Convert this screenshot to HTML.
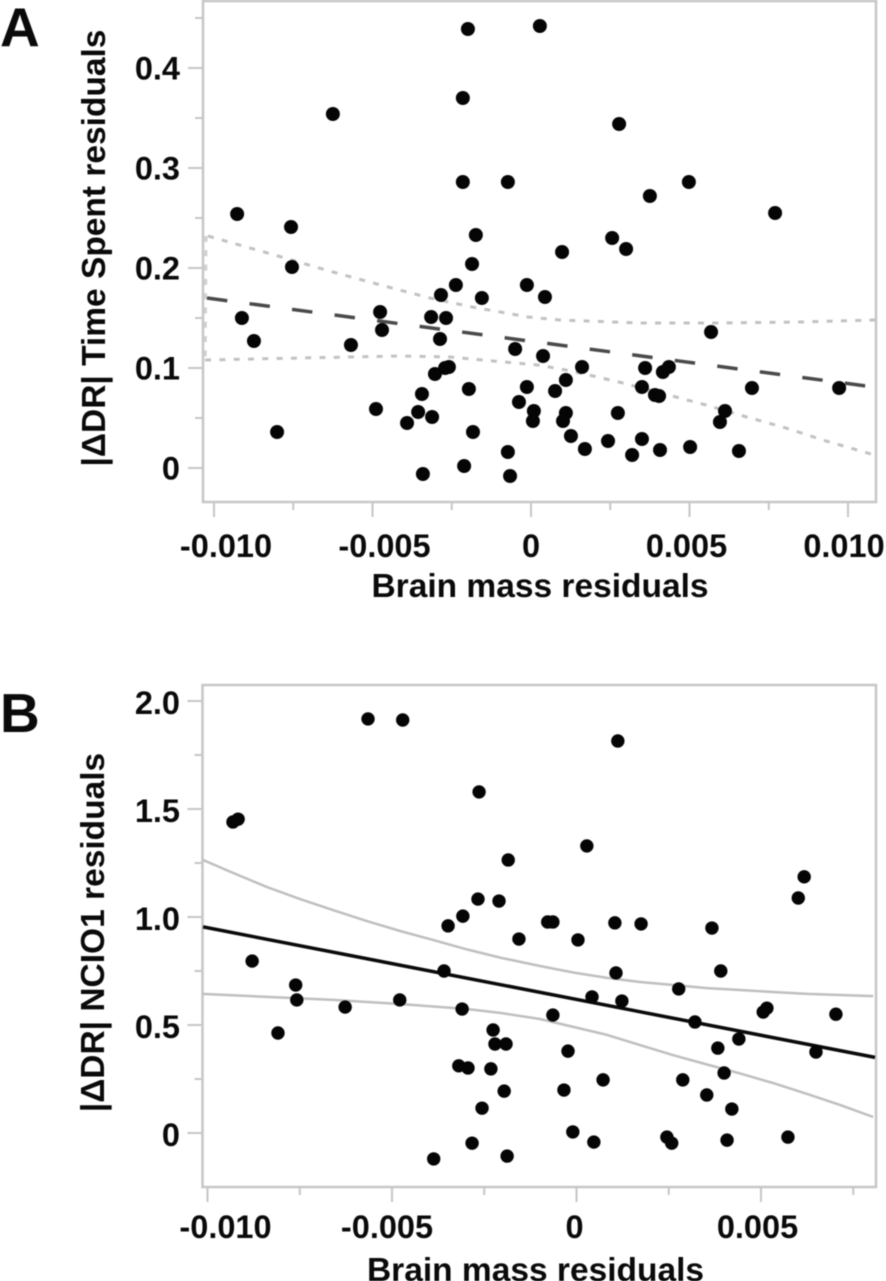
<!DOCTYPE html>
<html lang="en">
<head>
<meta charset="utf-8">
<title>Brain mass residual scatter plots</title>
<style>
html,body{margin:0;padding:0;background:#fff;}
svg{display:block;}
text{font-family:"Liberation Sans",Arial,sans-serif;font-weight:bold;fill:#0a0a0a;}
.filter-soft{filter:blur(0.5px);}
</style>
</head>
<body>
<svg id="figure" xmlns="http://www.w3.org/2000/svg" width="886" height="1281" viewBox="0 0 886 1281">
  <g id="panelA" class="filter-soft">
    <text x="0" y="46" font-size="55">A</text>
    <text transform="translate(105,248) rotate(-90)" text-anchor="middle" font-size="33.5">|ΔDR| Time Spent residuals</text>
    <text x="540" y="597" text-anchor="middle" font-size="33.5">Brain mass residuals</text>
  </g>
  <g id="panelB" class="filter-soft">
    <text x="0" y="732" font-size="55">B</text>
    <text transform="translate(104,932.5) rotate(-90)" text-anchor="middle" font-size="33.5">|ΔDR| NCIO1 residuals</text>
    <text x="535.5" y="1281" text-anchor="middle" font-size="33.5">Brain mass residuals</text>
  </g>
</svg>
<script>
// Panel A data
const aXTickValues = [-0.010, -0.005, 0, 0.005, 0.010];
const aXTickLabels = ['-0.010', '-0.005', '0', '0.005', '0.010'];
const aXMinorValues = [-0.0075, -0.0025, 0.0025, 0.0075];
const aYTickValues = [0, 0.1, 0.2, 0.3, 0.4];
const aYTickLabels = ['0', '0.1', '0.2', '0.3', '0.4'];
const aYMinorValues = [0.05, 0.15, 0.25, 0.35, 0.45];
const aPointsX = [-0.00927,-0.00912,-0.00874,-0.00801,-0.00757,-0.00754,-0.00625,-0.00568,-0.00489,-0.00476,-0.00470,-0.00391,-0.00356,-0.00344,-0.00341,-0.00315,-0.00312,-0.00303,-0.00287,-0.00284,-0.00268,-0.00271,-0.00259,-0.00237,-0.00215,-0.00215,-0.00211,-0.00196,-0.00199,-0.00186,-0.00183,-0.00174,-0.00155,-0.00073,-0.00073,-0.00066,-0.00050,-0.00038,-0.00013,-0.00013,0.00009,0.00006,0.00028,0.00044,0.00038,0.00076,0.00098,0.00110,0.00110,0.00101,0.00126,0.00161,0.00170,0.00243,0.00256,0.00274,0.00278,0.00300,0.00319,0.00350,0.00350,0.00360,0.00375,0.00391,0.00404,0.00407,0.00416,0.00435,0.00498,0.00502,0.00568,0.00596,0.00612,0.00656,0.00697,0.00770,0.00972];
const aPointsY = [0.254,0.150,0.127,0.036,0.241,0.201,0.354,0.123,0.059,0.156,0.138,0.045,0.056,0.074,-0.006,0.151,0.051,0.094,0.129,0.173,0.150,0.100,0.101,0.183,0.370,0.286,0.002,0.079,0.439,0.204,0.036,0.233,0.170,0.286,0.016,-0.008,0.119,0.066,0.183,0.081,0.057,0.047,0.442,0.171,0.112,0.077,0.216,0.088,0.055,0.047,0.032,0.101,0.019,0.027,0.230,0.055,0.344,0.219,0.013,0.081,0.029,0.100,0.272,0.073,0.072,0.018,0.096,0.101,0.286,0.021,0.136,0.046,0.057,0.017,0.080,0.255,0.080];
const aFitX = [-0.01022, 0.01057];
const aFitY = [0.170, 0.082];
const aUpperX = [-0.01019,-0.00798,-0.00625,-0.00451,-0.00319,-0.00186,-0.00009,0.00091,0.00344,0.00596,0.00849,0.01088];
const aUpperY = [0.232,0.212,0.196,0.181,0.170,0.161,0.151,0.148,0.145,0.145,0.146,0.148];
const aLowerX = [-0.01028,-0.00729,-0.00413,-0.00256,-0.00120,0.00022,0.00110,0.00196,0.00290,0.00457,0.00552,0.00669,0.00804,0.00931,0.01073];
const aLowerY = [0.108,0.110,0.112,0.111,0.107,0.103,0.098,0.092,0.085,0.071,0.063,0.052,0.040,0.027,0.014];

// Panel B data
const bXTickValues = [-0.010, -0.005, 0, 0.005];
const bXTickLabels = ['-0.010', '-0.005', '0', '0.005'];
const bXMinorValues = [-0.0075, -0.0025, 0.0025, 0.0075];
const bYTickValues = [0, 0.5, 1.0, 1.5, 2.0];
const bYTickLabels = ['0', '0.5', '1.0', '1.5', '2.0'];
const bYMinorValues = [0.25, 0.75, 1.25, 1.75];
const bPointsX = [-0.00931,-0.00917,-0.00879,-0.00809,-0.00761,-0.00758,-0.00627,-0.00565,-0.00479,-0.00471,-0.00387,-0.00359,-0.00348,-0.00319,-0.00310,-0.00308,-0.00294,-0.00283,-0.00267,-0.00264,-0.00256,-0.00232,-0.00226,-0.00221,-0.00210,-0.00196,-0.00191,-0.00188,-0.00185,-0.00156,-0.00078,-0.00064,-0.00064,-0.00034,-0.00023,-0.00010,0.00004,0.00028,0.00042,0.00047,0.00072,0.00104,0.00107,0.00112,0.00123,0.00175,0.00245,0.00258,0.00277,0.00288,0.00321,0.00353,0.00367,0.00383,0.00391,0.00400,0.00408,0.00421,0.00440,0.00506,0.00516,0.00573,0.00601,0.00617,0.00649,0.00703];
const bPointsY = [1.440,1.453,0.796,0.463,0.685,0.616,0.583,1.917,0.616,1.912,-0.120,0.750,0.959,0.311,0.574,1.004,0.301,-0.047,1.083,1.579,0.115,0.297,0.477,0.412,1.074,0.194,0.412,-0.107,1.264,0.898,0.977,0.977,0.546,0.199,0.379,0.005,0.894,1.329,0.630,-0.042,0.246,0.973,0.741,1.815,0.611,0.968,-0.019,-0.047,0.667,0.246,0.514,0.176,0.949,0.393,0.750,0.278,-0.033,0.111,0.435,0.560,0.578,-0.019,1.088,1.186,0.375,0.550];
const bFitX = [-0.01012, 0.00809];
const bFitY = [0.954, 0.350];
const bUpperX = [-0.01012,-0.00931,-0.00839,-0.00749,-0.00660,-0.00568,-0.00478,-0.00389,-0.00297,-0.00207,-0.00099,-0.00009,0.00083,0.00172,0.00262,0.00354,0.00443,0.00533,0.00625,0.00804];
const bUpperY = [1.264,1.204,1.139,1.083,1.032,0.981,0.935,0.894,0.850,0.812,0.773,0.743,0.718,0.699,0.685,0.671,0.662,0.653,0.644,0.634];
const bLowerX = [-0.01015,-0.00839,-0.00660,-0.00478,-0.00297,-0.00207,-0.00099,-0.00009,0.00083,0.00172,0.00262,0.00354,0.00443,0.00533,0.00625,0.00714,0.00804];
const bLowerY = [0.644,0.630,0.616,0.597,0.574,0.556,0.528,0.491,0.454,0.407,0.360,0.317,0.276,0.231,0.181,0.130,0.074];

const SVGNS = 'http://www.w3.org/2000/svg';
function make(tag, attrs, parent) {
  const el = document.createElementNS(SVGNS, tag);
  for (const k in attrs) el.setAttribute(k, attrs[k]);
  parent.appendChild(el);
  return el;
}

// Axis functions
const aSx = v => 531 + v * 31700;
const aSy = v => 468 - v * 1000;
const bSx = v => 576.5 + v * 36900;
const bSy = v => 1133 - v * 216;

// Label placement quirks of the original figure
const aLabelNudge = v => v < 0 ? 12 : (v > 0 ? (v > 0.007 ? -4 : -3) : 0);
const bLabelNudge = v => v < -0.007 ? 18 : (v < 0 ? -5 : (v > 0 ? -3.5 : -2));

function drawFrame(group, box) {
  const frame = make('rect', {x: box.l, y: box.t, width: box.r - box.l, height: box.b - box.t, fill: 'none', stroke: '#c6c6c6', 'stroke-width': 2.5}, group);
  
  
}

function drawAxes(group, box, sx, sy, xVals, xLabels, xMinor, yVals, yLabels, yMinor, nudge, xBase, yBase) {
  xVals.forEach((v, i) => {
    const t = make('line', {x1: sx(v), x2: sx(v), y1: box.b, y2: box.b + 15, stroke: '#c6c6c6', 'stroke-width': 2}, group);
    
    
    const l = make('text', {x: sx(v) + nudge(v), y: box.b + xBase, 'text-anchor': 'middle', 'font-size': 32.5}, group);
    
    
    l.textContent = xLabels[i];
  });
  xMinor.forEach(v => {
    if (sx(v) > box.r) return;
    const t = make('line', {x1: sx(v), x2: sx(v), y1: box.b, y2: box.b + 8, stroke: '#c6c6c6', 'stroke-width': 2}, group);
    
    
  });
  yVals.forEach((v, i) => {
    const t = make('line', {x1: box.l - 15, x2: box.l, y1: sy(v), y2: sy(v), stroke: '#c6c6c6', 'stroke-width': 2}, group);
    
    
    const l = make('text', {x: 180, y: sy(v) + yBase, 'text-anchor': 'end', 'font-size': 32.5}, group);
    
    
    l.textContent = yLabels[i];
  });
  yMinor.forEach(v => {
    const t = make('line', {x1: box.l - 8, x2: box.l, y1: sy(v), y2: sy(v), stroke: '#c6c6c6', 'stroke-width': 2}, group);
    
    
  });
}

function pathOf(xs, ys, sx, sy) {
  return xs.map((x, i) => sx(x).toFixed(1) + ',' + sy(ys[i]).toFixed(1)).join(' ');
}

function drawPoints(group, xs, ys, sx, sy, r) {
  xs.forEach((x, i) => {
    const c = make('circle', {cx: sx(x), cy: sy(ys[i]), r: r, fill: '#050505'}, group);
    
    
  });
}

// Panel A
const groupA = document.getElementById('panelA');
const boxA = {l: 203, r: 876, t: 1, b: 502};
drawFrame(groupA, boxA);
drawAxes(groupA, boxA, aSx, aSy, aXTickValues, aXTickLabels, aXMinorValues, aYTickValues, aYTickLabels, aYMinorValues, aLabelNudge, 55, 11.5);

const aEdge = make('line', {x1: aSx(aUpperX[0]) - 2, x2: aSx(aLowerX[0]), y1: aSy(aUpperY[0]), y2: aSy(aLowerY[0]), stroke: '#cfcfcf', 'stroke-width': 3, 'stroke-dasharray': '6 8.3'}, groupA);



const aUpper = make('polyline', {points: pathOf(aUpperX, aUpperY, aSx, aSy), fill: 'none', stroke: '#c2c2c2', 'stroke-width': 3, 'stroke-dasharray': '6 8.3'}, groupA);



const aLower = make('polyline', {points: pathOf(aLowerX, aLowerY, aSx, aSy), fill: 'none', stroke: '#c2c2c2', 'stroke-width': 3, 'stroke-dasharray': '6 8.3'}, groupA);



const aFit = make('polyline', {points: pathOf(aFitX, aFitY, aSx, aSy), fill: 'none', stroke: '#4a4a4a', 'stroke-width': 3.5, 'stroke-dasharray': '20.5 22.4'}, groupA);



drawPoints(groupA, aPointsX, aPointsY, aSx, aSy, 7);

// Panel B
const groupB = document.getElementById('panelB');
const boxB = {l: 202.5, r: 876, t: 685, b: 1187};
drawFrame(groupB, boxB);
drawAxes(groupB, boxB, bSx, bSy, bXTickValues, bXTickLabels, bXMinorValues, bYTickValues, bYTickLabels, bYMinorValues, bLabelNudge, 51, 13);

const bUpper = make('polyline', {points: pathOf(bUpperX, bUpperY, bSx, bSy), fill: 'none', stroke: '#bfbfbf', 'stroke-width': 2.5, 'stroke-linejoin': 'round'}, groupB);



const bLower = make('polyline', {points: pathOf(bLowerX, bLowerY, bSx, bSy), fill: 'none', stroke: '#bfbfbf', 'stroke-width': 2.5, 'stroke-linejoin': 'round'}, groupB);



const bFit = make('polyline', {points: pathOf(bFitX, bFitY, bSx, bSy), fill: 'none', stroke: '#0a0a0a', 'stroke-width': 3.5}, groupB);



drawPoints(groupB, bPointsX, bPointsY, bSx, bSy, 6.7);
</script>
</body>
</html>
